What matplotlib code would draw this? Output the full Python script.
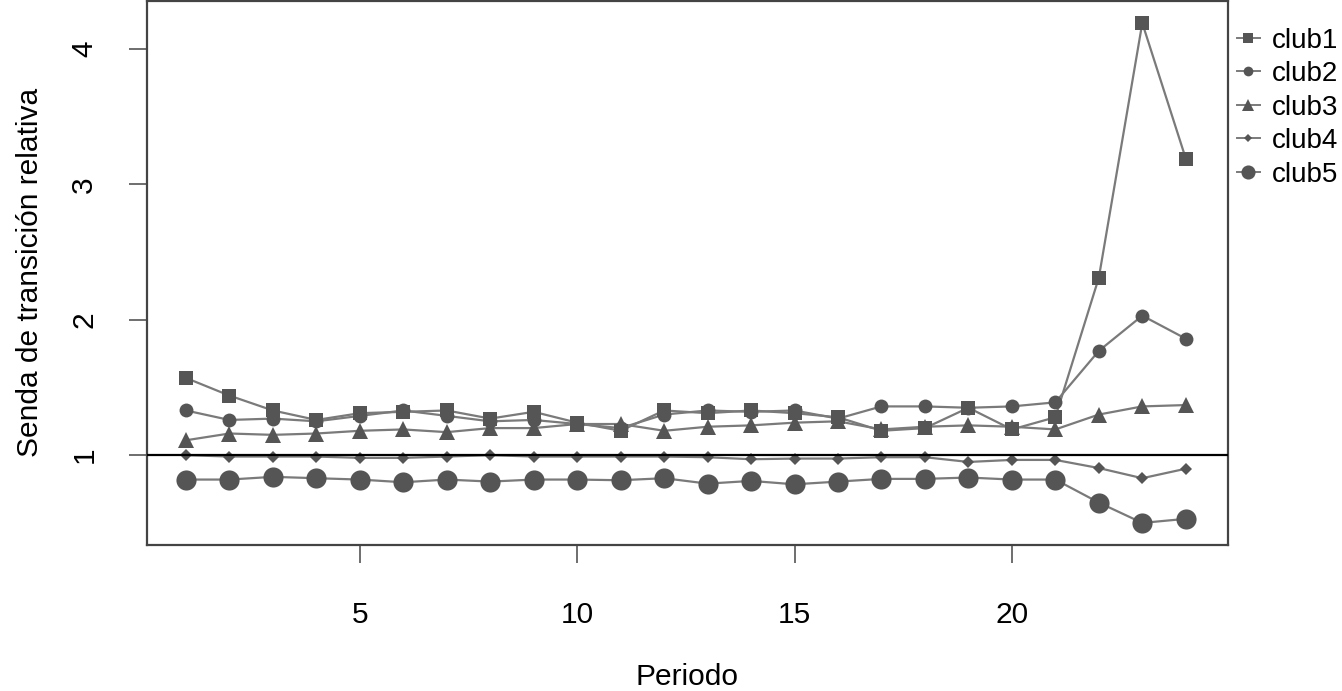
import numpy as np
import matplotlib.pyplot as plt

periodo = list(range(1, 25))
club1 = [1.57, 1.44, 1.33, 1.26, 1.31, 1.32, 1.33, 1.27, 1.32, 1.24,
         1.18, 1.33, 1.31, 1.33, 1.31, 1.28, 1.18, 1.20, 1.35, 1.19,
         1.28, 2.31, 4.19, 3.19]
club2 = [1.33, 1.26, 1.27, 1.25, 1.29, 1.33, 1.29, 1.25, 1.26, 1.23,
         1.20, 1.30, 1.33, 1.32, 1.33, 1.27, 1.36, 1.36, 1.35, 1.36,
         1.39, 1.77, 2.03, 1.86]
club3 = [1.11, 1.16, 1.15, 1.16, 1.18, 1.19, 1.17, 1.20, 1.20, 1.23,
         1.23, 1.18, 1.21, 1.22, 1.24, 1.25, 1.19, 1.21, 1.22, 1.21,
         1.19, 1.30, 1.36, 1.37]
club4 = [1.00, 0.99, 0.99, 0.99, 0.98, 0.98, 0.99, 1.00, 0.99, 0.99,
         0.99, 0.99, 0.985, 0.97, 0.975, 0.975, 0.985, 0.985, 0.95, 0.965,
         0.965, 0.905, 0.83, 0.90]
club5 = [0.82, 0.82, 0.84, 0.83, 0.82, 0.80, 0.82, 0.805, 0.82, 0.82,
         0.815, 0.83, 0.79, 0.81, 0.785, 0.805, 0.825, 0.825, 0.835, 0.82,
         0.82, 0.65, 0.50, 0.53]

series = [("club1", club1, "s", 10.5),
          ("club2", club2, "o", 10),
          ("club3", club3, "^", 11.5),
          ("club4", club4, "D", 6),
          ("club5", club5, "o", 14.5)]

plt.rcParams['font.family'] = ['Liberation Sans', 'DejaVu Sans']

fig = plt.figure(figsize=(13.42, 6.91), dpi=100)
ax = fig.add_axes([0.1095, 0.2113, 0.8055, 0.7875])

mcol = "#555555"
lcol = "#7a7a7a"
handles = []
for name, vals, mk, ms in series:
    ax.plot(periodo, vals, color=lcol, lw=1.6, zorder=2)
    ax.plot(periodo, vals, ls="none", marker=mk, ms=ms, color=mcol,
            mec=mcol, mew=0, zorder=3)
    h, = ax.plot([], [], color=lcol, lw=1.4, marker=mk, ms=ms * 0.7,
                 mfc=mcol, mec=mcol, mew=0)
    handles.append(h)

ax.axhline(1, color="black", lw=1.6, zorder=4)

ax.set_xlim(0.103, 24.97)
ax.set_ylim(0.337, 4.354)
ax.set_xticks([5, 10, 15, 20])
ax.set_yticks([1, 2, 3, 4])
ax.tick_params(axis="both", direction="out", length=13, width=1.2,
               color="#555555", labelsize=21.5)
ax.tick_params(axis="x", pad=27)
ax.tick_params(axis="y", pad=22)
for lab in ax.get_yticklabels():
    lab.set_rotation(90)
    lab.set_va("center")
for sp in ax.spines.values():
    sp.set_color("#444444")
    sp.set_linewidth(1.6)

ax.set_xlabel("Periodo", fontsize=21.5, labelpad=25)
ax.set_ylabel("Senda de transición relativa", fontsize=21.5, labelpad=19)

fig.legend(handles, [s[0] for s in series], loc="upper left",
           bbox_to_anchor=(0.922, 0.96), frameon=False, fontsize=20,
           handlelength=0.8, handletextpad=0.45, labelspacing=0.27,
           borderaxespad=0, borderpad=0)

fig.savefig("out.png", dpi=100)
